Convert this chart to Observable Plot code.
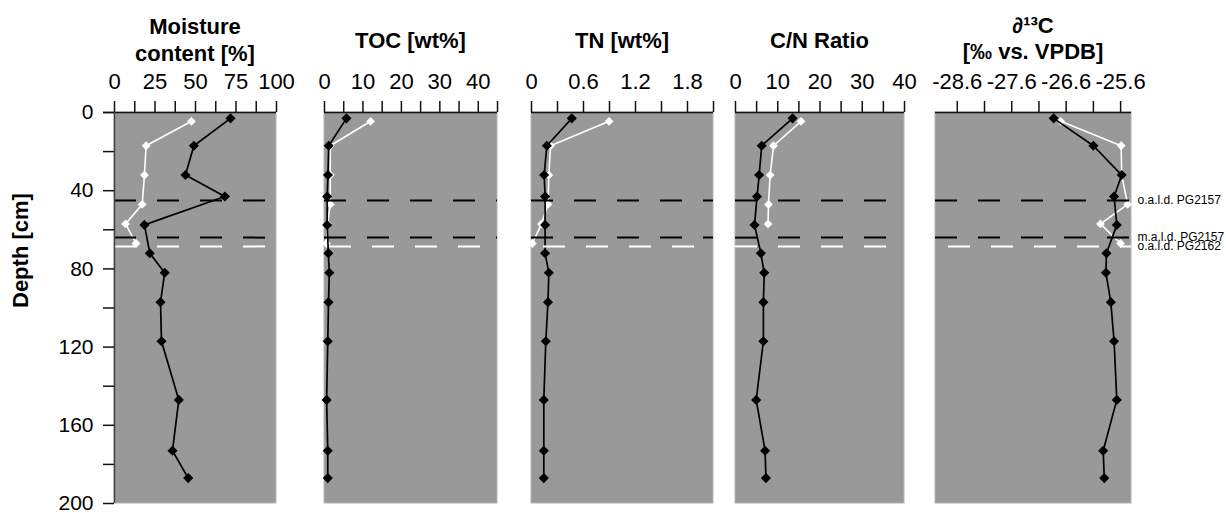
<!DOCTYPE html>
<html><head><meta charset="utf-8">
<script src="https://cdn.jsdelivr.net/npm/d3@7"></script>
<script src="https://cdn.jsdelivr.net/npm/@observablehq/plot@0.6"></script>
<style>
body{margin:0;background:#fff;}
#wrap{position:relative;width:1226px;height:513px;font-family:"Liberation Sans",Arial,sans-serif;}
.title{position:absolute;text-align:center;font-weight:bold;font-size:22px;line-height:27px;color:#000;white-space:nowrap;}
.panel{position:absolute;top:64px;}
</style></head><body><div id="wrap"></div>
<script>
// ---- data ----
const depthBlack = [3, 17, 32, 43, 57.5, 72, 82, 97, 117, 147, 173, 187];
const depthWhite = [4.5, 17, 32, 47, 57, 67];

const moistureBlack = [71.6, 49, 43.8, 68.1, 18.5, 21.8, 31, 28.4, 29, 39.7, 35.8, 45.5];
const moistureWhite = [47.5, 19.5, 18.5, 17.1, 6.8, 13.3];

const tocBlack = [5.7, 1.1, 0.9, 0.7, 0.7, 1.0, 1.25, 1.05, 0.85, 0.55, 0.85, 0.85];
const tocWhite = [12.0, 1.5, 1.5, 1.5, 0.8, 0.5];

const tnBlack = [0.465, 0.177, 0.146, 0.157, 0.157, 0.157, 0.20, 0.19, 0.165, 0.142, 0.142, 0.142];
const tnWhite = [0.895, 0.22, 0.20, 0.19, 0.115, 0.01];

const cnBlack = [13.5, 6.2, 5.6, 5.1, 4.5, 6.0, 6.8, 6.6, 6.6, 4.9, 7.0, 7.2];
const cnWhite = [15.5, 9.0, 8.2, 7.8, 7.7];

const d13cBlack = [-26.83, -26.1, -25.58, -25.72, -25.67, -25.86, -25.87, -25.78, -25.72, -25.67, -25.92, -25.9];
const d13cWhite = [-26.7, -25.59, -25.58, -25.47, -25.97, -25.6];

const ticksMoisture = [0, 12.5, 25, 37.5, 50, 62.5, 75, 87.5, 100];
const labelsMoisture = [0, 25, 50, 75, 100];
const ticksToc = [0, 5, 10, 15, 20, 25, 30, 35, 40, 45];
const labelsToc = [0, 10, 20, 30, 40];
const ticksTn = [0, 0.3, 0.6, 0.9, 1.2, 1.5, 1.8, 2.1];
const labelsTn = [0, 0.6, 1.2, 1.8];
const ticksCn = [0, 5, 10, 15, 20, 25, 30, 35, 40];
const labelsCn = [0, 10, 20, 30, 40];
const ticksD13c = [-28.6, -28.1, -27.6, -27.1, -26.6, -26.1, -25.6];
const labelsD13c = [-28.6, -27.6, -26.6, -25.6];

const depthTicks = [0, 20, 40, 60, 80, 100, 120, 140, 160, 180, 200];
const depthLabels = [0, 40, 80, 120, 160, 200];

const boundaryBlackDepths = [45, 64];
const boundaryWhiteDepths = [68.5];
const boundaryLabelDepths = [45, 64, 68.5];
const boundaryLabels = ["o.a.l.d. PG2157", "m.a.l.d. PG2157", "o.a.l.d. PG2162"];

const titles = [["Moisture", "content [%]"], ["TOC [wt%]"], ["TN [wt%]"], ["C/N Ratio"], ["\u2202\u00B9\u00B3C", "[\u2030 vs. VPDB]"]];

// ---- layout ----
const H = 513, svgTop = 64, plotTop = 48, mBottom = 10, tickPx = 11;
const depthDomain = [0, 200];
const plotH = H - svgTop - plotTop - mBottom;            // height of the grey area
const yTickLen = tickPx * (depthDomain[1] - depthDomain[0]) / plotH;
const panels = [
  {left: 0, width: 290, mL: 114, mR: 14, domain: [0, 100], ticks: ticksMoisture, labels: labelsMoisture, black: moistureBlack, white: moistureWhite, off: 0, yAxis: true},
  {left: 290, width: 220, mL: 34, mR: 13, domain: [0, 45], ticks: ticksToc, labels: labelsToc, black: tocBlack, white: tocWhite, off: -5},
  {left: 510, width: 210, mL: 21, mR: 7, domain: [0, 2.1], ticks: ticksTn, labels: labelsTn, black: tnBlack, white: tnWhite, off: -12},
  {left: 720, width: 200, mL: 15, mR: 16, domain: [0, 40], ticks: ticksCn, labels: labelsCn, black: cnBlack, white: cnWhite, off: 0},
  {left: 920, width: 306, mL: 15, mR: 95, domain: [-29, -25.4], ticks: ticksD13c, labels: labelsD13c, black: d13cBlack, white: d13cWhite, off: -13, right: true}
];

const wrap = document.getElementById("wrap");

panels.forEach((p, i) => {
  const blackData = p.black.map((v, k) => ({v, d: depthBlack[k]}));
  const whiteData = p.white.map((v, k) => ({v, d: depthWhite[k]}));
  const [x0, x1] = p.domain;
  const plotW = p.width - p.mL - p.mR;
  const xTickLen = p.yAxis ? tickPx * (x1 - x0) / plotW : 0;
  // the scales are extended by the tick length so the tick marks lie inside the plot frame
  const xDomain = [x0 - xTickLen, x1];
  const yDomain = [depthDomain[0] - yTickLen, depthDomain[1]];
  const marks = [
    Plot.rect([p.domain], {x1: (d) => d[0], x2: (d) => d[1], y1: depthDomain[0], y2: depthDomain[1], fill: "#999999", stroke: "#b5b5b5"}),
    Plot.line(whiteData, {x: "v", y: "d", stroke: "white", strokeWidth: 1.6}),
    Plot.dot(whiteData, {x: "v", y: "d", symbol: "diamond2", fill: "white", stroke: "white", r: 3}),
    Plot.line(blackData, {x: "v", y: "d", stroke: "black", strokeWidth: 1.7}),
    Plot.dot(blackData, {x: "v", y: "d", symbol: "diamond2", fill: "black", stroke: "black", r: 3.6}),
    Plot.ruleY(boundaryBlackDepths, {y: (d) => d, x1: x0, x2: x1, stroke: "black", strokeWidth: 2, strokeDasharray: "22,21"}),
    Plot.ruleY(boundaryWhiteDepths, {y: (d) => d, x1: x0, x2: x1, stroke: "white", strokeWidth: 2, strokeDasharray: "22,21", strokeDashoffset: p.off}),
    // top axis line and tick marks
    Plot.ruleY([depthDomain[0]], {y: (d) => d, x1: x0 - xTickLen, x2: x1, stroke: "#111", strokeWidth: 1.5}),
    Plot.ruleX(p.ticks, {x: (d) => d, y1: depthDomain[0] - yTickLen, y2: depthDomain[0], stroke: "#111", strokeWidth: 1.5}),
    Plot.axisX({anchor: "top", ticks: p.labels, tickSize: 0, tickPadding: 13, label: null, fontSize: 22, tickFormat: (d) => String(d)})
  ];
  if (p.yAxis) {
    marks.push(
      Plot.ruleX([x0], {x: (d) => d, y1: depthDomain[0], y2: depthDomain[1], stroke: "#444", strokeWidth: 1.5}),
      Plot.ruleY(depthTicks, {y: (d) => d, x1: x0 - xTickLen, x2: x0, stroke: "#111", strokeWidth: 1.5}),
      Plot.axisY({ticks: depthLabels, tickSize: 0, tickPadding: 10, label: null, fontSize: 21}),
      Plot.text(["Depth [cm]"], {y: (depthDomain[0] + depthDomain[1]) / 2, frameAnchor: "left", rotate: -90, dx: -83, fontWeight: "bold", fontSize: 22})
    );
  }
  if (p.right) {
    const lab = boundaryLabels.map((t, k) => ({t, d: boundaryLabelDepths[k]}));
    marks.push(Plot.text(lab, {y: "d", text: "t", frameAnchor: "right", dx: 6, textAnchor: "start", fontSize: 12}));
  }
  const chart = Plot.plot({
    width: p.width, height: H - svgTop,
    marginLeft: p.mL - (p.yAxis ? tickPx : 0), marginRight: p.mR, marginTop: plotTop - tickPx, marginBottom: mBottom,
    x: {domain: xDomain, axis: null},
    y: {domain: yDomain, reverse: true, axis: null},
    style: {fontFamily: '"Liberation Sans", Arial, sans-serif', fontSize: "20px", color: "black", background: "transparent", overflow: "visible"},
    marks
  });
  chart.classList.add("panel");
  chart.style.left = p.left + "px";
  chart.style.top = svgTop + "px";
  chart.style.position = "absolute";
  wrap.appendChild(chart);

  const cx = p.left + p.mL + plotW / 2;
  const t = document.createElement("div");
  t.className = "title";
  t.style.left = (cx - 120) + "px";
  t.style.width = "240px";
  const lines = titles[i];
  t.style.top = (lines.length === 2 ? 13 : 27) + "px";
  if (i === 4) t.style.lineHeight = "26px";
  t.innerHTML = lines.join("<br>");
  wrap.appendChild(t);
});
</script>
</body></html>
